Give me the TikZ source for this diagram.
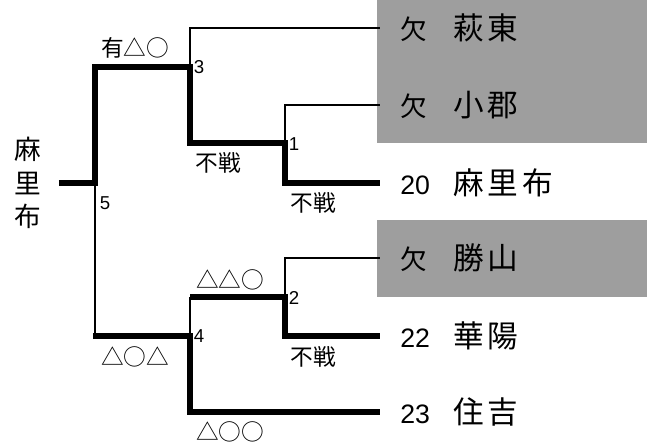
\documentclass[tikz,border=0pt]{standalone}
\usepackage{fontspec}
\setmainfont{Liberation Sans}
\newfontfamily\jp{Noto Sans CJK JP}
\newfontfamily\jpname[LetterSpace=12]{Noto Sans CJK JP}
\usetikzlibrary{positioning}

\tikzset{
  win/.style={line width=5pt, line join=miter},
  lose/.style={line width=2pt},
  team/.style={anchor=west, inner xsep=15pt, inner ysep=0pt, font=\fontsize{20}{20}\selectfont},
  score/.style={font=\jp\fontsize{17}{17}\selectfont, inner sep=0pt},
  matchno/.style={font=\fontsize{14}{14}\selectfont, inner sep=0pt},
  absent/.style={fill=black!38, draw=none}
}
\newcommand{\teamname}[2]{\makebox[40pt][l]{#1}{\jpname\fontsize{23}{23}\selectfont #2}}

\begin{document}
\begin{tikzpicture}[x=0.75pt, y=-0.75pt]
\useasboundingbox (0,0) rectangle (653,443);

% shaded rows for absent teams
\fill[absent] (377,0) rectangle (647,143);
\fill[absent] (377,220) rectangle (647,297);

% teams
\node[team] (haghi) at (380,28) {\teamname{\jp 欠}{萩東}};
\node[team] (ogori) at (380,105) {\teamname{\jp 欠}{小郡}};
\node[team] (marifu) at (380,183) {\teamname{20}{麻里布}};
\node[team] (katsu) at (380,258) {\teamname{\jp 欠}{勝山}};
\node[team] (kayo) at (380,336) {\teamname{22}{華陽}};
\node[team] (sumi) at (380,412) {\teamname{23}{住吉}};

% winner on the left
\node[inner xsep=13pt, font=\jp\fontsize{20}{25}\selectfont, align=center] (champ) at (28,183) {麻\\里\\布};

% match points
\coordinate (m5) at (95,183);
\coordinate (m3) at (190,67);
\coordinate (m1) at (285,143);
\coordinate (m4) at (190,336);
\coordinate (m2) at (285,297);
\coordinate (m54) at (95,336);
\coordinate (m42) at (190,297);

% bracket lines
\draw[lose] (m3) |- (haghi.west);
\draw[lose] (m1) |- (ogori.west);
\draw[lose] (m2) |- (katsu.west);
\draw[lose] (m5) -- (m54);
\draw[lose] (m4) -- (m42);
\draw[win] (champ.east) -- (m5) |- (m3) |- (m1) |- (marifu.west);
\draw[win] ([xshift=-1.5pt]m54) -- (m4) |- (sumi.west);
\draw[win] (m42) -- (m2) |- (kayo.west);

% match numbers
\node[matchno] (n3) at (199,67) {3};
\node[matchno] (n1) at (294,144) {1};
\node[matchno] (n5) at (105,203) {5};
\node[matchno] (n2) at (294,298) {2};
\node[matchno] (n4) at (199,336) {4};

% results
\node[score] (s3) at (135,48) {有△○};
\node[score] (s3b) at (218,163) {不戦};
\node[score] (s1) at (313,203) {不戦};
\node[score] (s4t) at (230,280) {△△○};
\node[score] (s2) at (313,357) {不戦};
\node[score] (s5) at (135,357) {△○△};
\node[score] (s4) at (230,432) {△○○};
\end{tikzpicture}
\end{document}
